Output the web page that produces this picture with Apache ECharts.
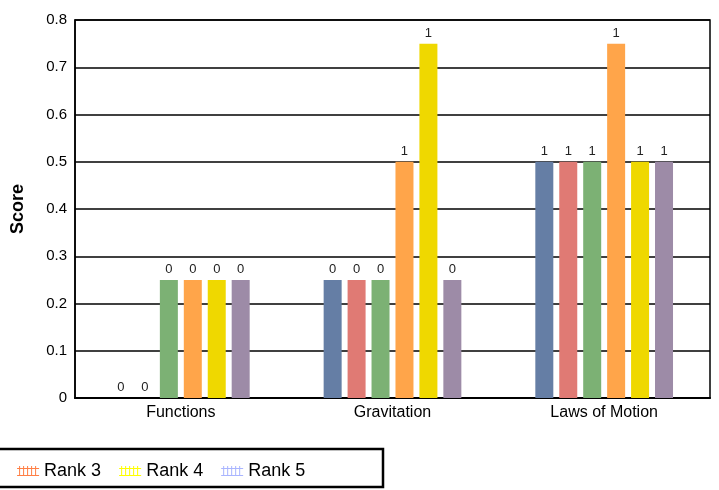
<!DOCTYPE html>
<html>
<head>
<meta charset="utf-8">
<script src="https://cdn.jsdelivr.net/npm/echarts@6/dist/echarts.min.js"></script>
<style>
html,body{margin:0;padding:0;background:#fff;}
#c{width:719px;height:490px;}
</style>
</head>
<body>
<div id="c"></div>
<script>
var categories = ['Functions', 'Gravitation', 'Laws of Motion'];
var seriesNames = ['Rank 0', 'Rank 1', 'Rank 2', 'Rank 3', 'Rank 4', 'Rank 5'];
var rank0 = [0, 0.25, 0.5];
var rank1 = [0, 0.25, 0.5];
var rank2 = [0.25, 0.25, 0.5];
var rank3 = [0.25, 0.5, 0.75];
var rank4 = [0.25, 0.75, 0.5];
var rank5 = [0.25, 0.25, 0.5];
var yTicks = [0, 0.1, 0.2, 0.3, 0.4, 0.5, 0.6, 0.7, 0.8];

var values = [rank0, rank1, rank2, rank3, rank4, rank5];
var barColors = ['#657ea5', '#e07a74', '#7cb174', '#ffa54a', '#efd800', '#9d8ba7'];
var legendColors = ['#6a8fd8', '#e85a5a', '#5ab45a', '#ff7f45', '#ffff00', '#a9b5ff'];

var fenceIcon = 'path://M0,2h22v1h-22z M0,9h22v1h-22z M2,0h1v10h-1z M6,0h1v10h-1z M10,0h1v10h-1z M14,0h1v10h-1z M18,0h1v10h-1z';

var chart = echarts.init(document.getElementById('c'), null, {renderer: 'canvas'});
var series = seriesNames.map(function (n, i) {
  return {
    name: n,
    type: 'bar',
    data: values[i],
    barWidth: 18,
    barGap: '33%',
    itemStyle: {color: barColors[i]},
    label: {
      show: true,
      position: 'top',
      distance: 4,
      fontFamily: 'Liberation Sans',
      fontSize: 13,
      color: '#222',
      formatter: function (p) { return String(Math.round(p.value)); }
    }
  };
});

chart.setOption({
  animation: false,
  backgroundColor: '#fff',
  textStyle: {fontFamily: 'Liberation Sans'},
  grid: {left: 75, right: 9, top: 20, bottom: 92, show: true, borderColor: '#000', borderWidth: 1.5, backgroundColor: 'transparent'},
  legend: {
    type: 'plain',
    left: -294,
    top: 457,
    width: 800,
    itemWidth: 22,
    itemHeight: 10,
    itemGap: 18,
    icon: fenceIcon,
    textStyle: {fontFamily: 'Liberation Sans', fontSize: 18, color: '#000'},
    data: seriesNames.map(function (n, i) {
      return {name: n, itemStyle: {color: legendColors[i]}};
    })
  },
  xAxis: {
    type: 'category',
    data: categories,
    axisLine: {lineStyle: {color: '#000', width: 2}},
    axisTick: {show: false},
    axisLabel: {fontFamily: 'Liberation Sans', fontSize: 16, color: '#000', margin: 7}
  },
  yAxis: {
    type: 'value',
    min: yTicks[0],
    max: yTicks[yTicks.length - 1],
    interval: 0.1,
    name: 'Score',
    nameLocation: 'middle',
    nameGap: 48,
    nameRotate: 90,
    nameTextStyle: {fontFamily: 'Liberation Sans', fontSize: 18, fontWeight: 'bold', color: '#000'},
    axisLine: {show: true, lineStyle: {color: '#000', width: 1.5}},
    axisTick: {show: false},
    axisLabel: {fontFamily: 'Liberation Sans', fontSize: 15, color: '#000', margin: 8,
      formatter: function (v) { return String(Math.round(v * 10) / 10); }},
    splitLine: {lineStyle: {color: '#000', width: 1.5}}
  },
  graphic: [{
    type: 'rect',
    shape: {x: -20, y: 449, width: 403, height: 38},
    style: {fill: 'none', stroke: '#000', lineWidth: 2.5},
    z: -1
  }],
  series: series
});
</script>
</body>
</html>
